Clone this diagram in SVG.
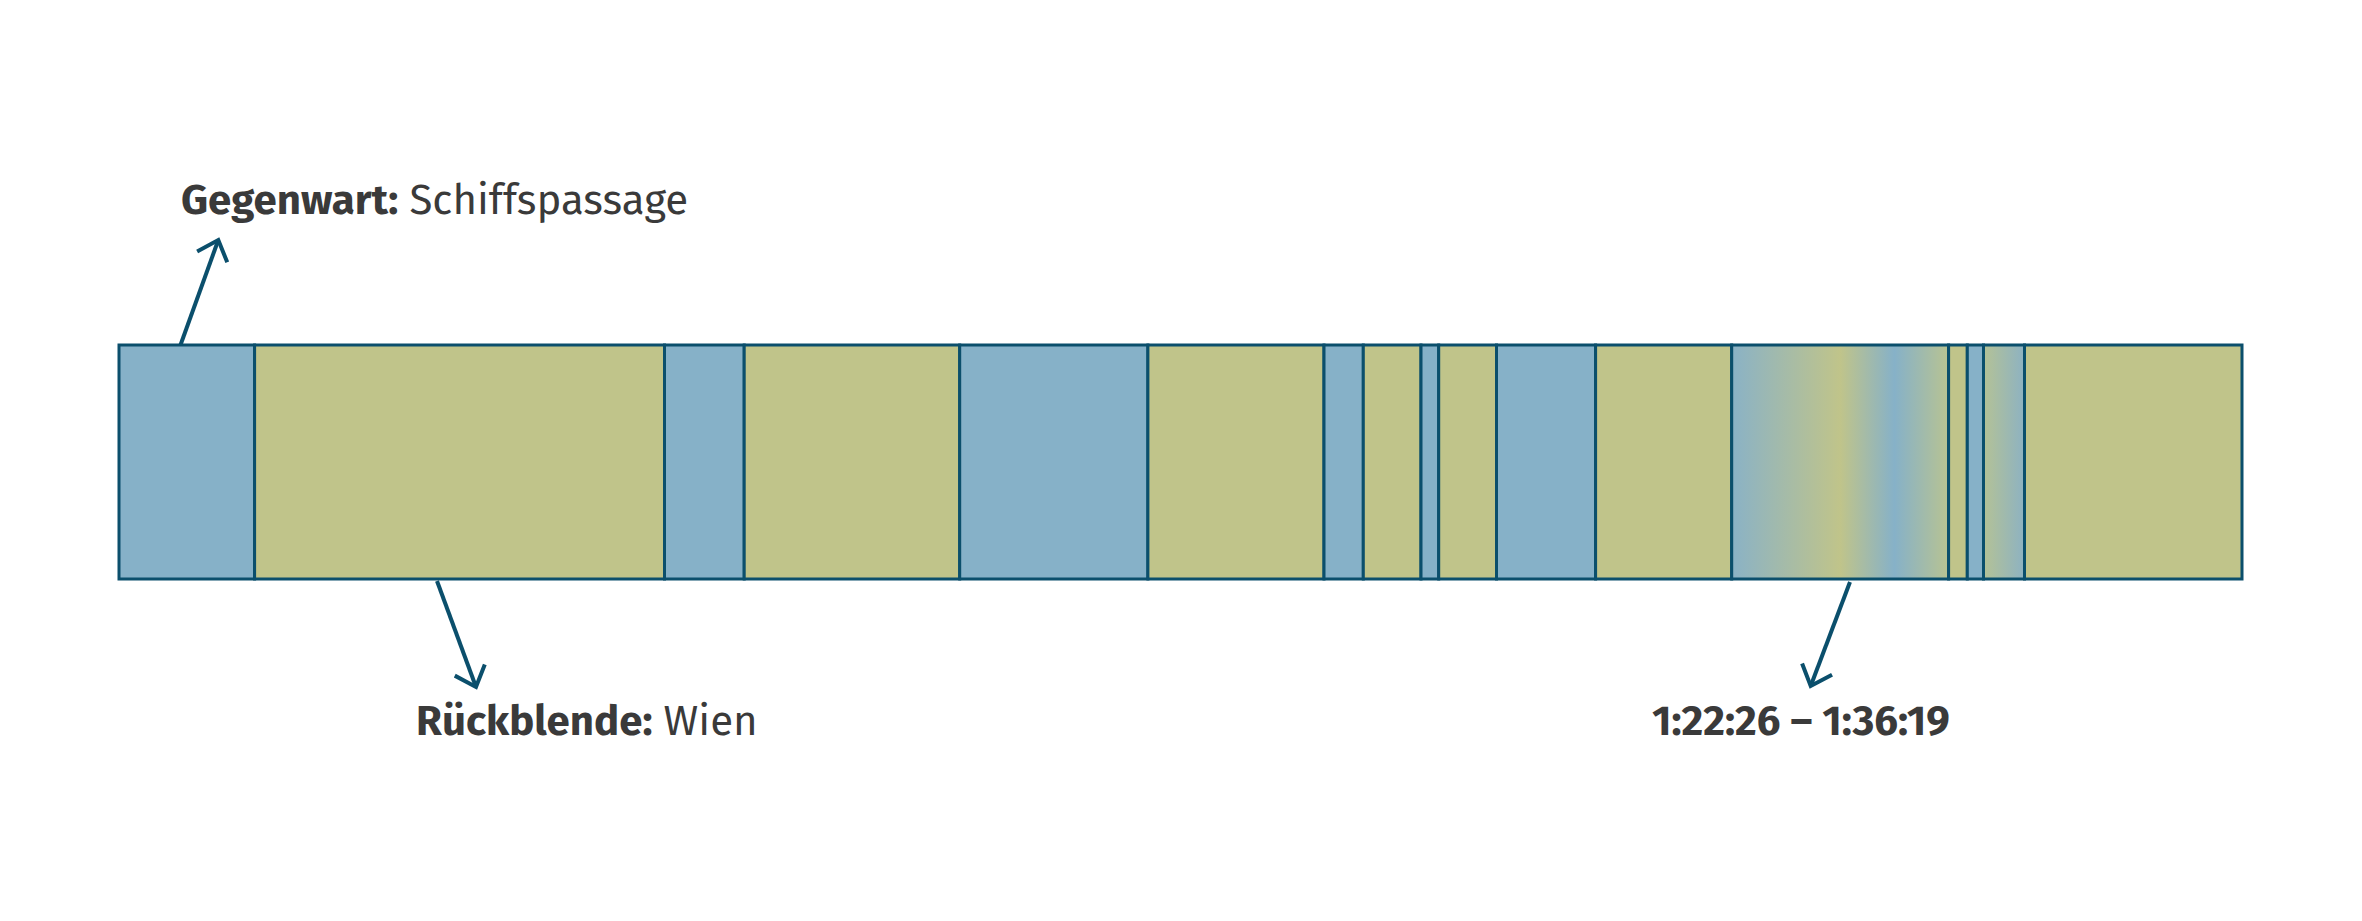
<svg xmlns="http://www.w3.org/2000/svg" width="2362" height="921" viewBox="0 0 2362 921">
<style>
.b{fill:#86b1c8}
.g{fill:#c0c48a}
.seg{stroke:#0b4f6c;stroke-width:3}
.con{fill:none;stroke:#0b4f6c;stroke-width:4}
.t{font-family:"Fira Sans","Noto Sans","Open Sans",sans-serif;font-size:42px;fill:#3a3a3a}
.bold{font-weight:700}
</style>
<defs>
<linearGradient id="gr1" x1="0" y1="0" x2="1" y2="0">
<stop offset="0" stop-color="#8ab2c6"/>
<stop offset="0.5" stop-color="#c0c48a"/>
<stop offset="0.75" stop-color="#86b1c8"/>
<stop offset="1" stop-color="#b8c392"/>
</linearGradient>
<linearGradient id="gr2" x1="0" y1="0" x2="1" y2="0">
<stop offset="0" stop-color="#b4c296"/>
<stop offset="1" stop-color="#8db2c2"/>
</linearGradient>
<marker id="ah" markerUnits="userSpaceOnUse" markerWidth="40" markerHeight="40" viewBox="-22 -20 26 40" refX="0" refY="0" orient="auto">
<path d="M-18,-16 L0,0 L-18,16" fill="none" stroke="#0b4f6c" stroke-width="4"/>
</marker>
</defs>
<rect width="2362" height="921" fill="#ffffff"/>
<g id="timeline">
<rect id="s1" class="b seg" x="119" y="345" width="135.6" height="234"/>
<rect id="s2" class="g seg" x="254.6" y="345" width="409.9" height="234"/>
<rect id="s3" class="b seg" x="664.5" y="345" width="79.7" height="234"/>
<rect id="s4" class="g seg" x="744.2" y="345" width="215.5" height="234"/>
<rect id="s5" class="b seg" x="959.7" y="345" width="188.2" height="234"/>
<rect id="s6" class="g seg" x="1147.9" y="345" width="176.1" height="234"/>
<rect id="s7" class="b seg" x="1324" y="345" width="39.3" height="234"/>
<rect id="s8" class="g seg" x="1363.3" y="345" width="57.7" height="234"/>
<rect id="s9" class="b seg" x="1421" y="345" width="17.7" height="234"/>
<rect id="s10" class="g seg" x="1438.7" y="345" width="57.8" height="234"/>
<rect id="s11" class="b seg" x="1496.5" y="345" width="99.1" height="234"/>
<rect id="s12" class="g seg" x="1595.6" y="345" width="136.1" height="234"/>
<rect id="s13" class="seg" fill="url(#gr1)" x="1731.7" y="345" width="216.9" height="234"/>
<rect id="s14" class="g seg" x="1948.6" y="345" width="18.7" height="234"/>
<rect id="s15" class="b seg" x="1967.3" y="345" width="16.2" height="234"/>
<rect id="s16" class="seg" fill="url(#gr2)" x="1983.5" y="345" width="41" height="234"/>
<rect id="s17" class="g seg" x="2024.5" y="345" width="217.5" height="234"/>
</g>
<g id="connectors">
<path class="con" d="M180.5,345 L218.3,240" marker-end="url(#ah)"/>
<path class="con" d="M437,581 L476,687" marker-end="url(#ah)"/>
<path class="con" d="M1850,582 L1810.7,686" marker-end="url(#ah)"/>
</g>
<g id="label-gegenwart">
<text class="t" x="181" y="214"><tspan class="bold">Gegenwart:</tspan> Schiffspassage</text>
</g>
<g id="label-rueckblende">
<text class="t" x="416" y="735"><tspan class="bold">Rückblende:</tspan> Wien</text>
</g>
<g id="label-time">
<text class="t bold" x="1652" y="735">1:22:26 – 1:36:19</text>
</g>
</svg>
